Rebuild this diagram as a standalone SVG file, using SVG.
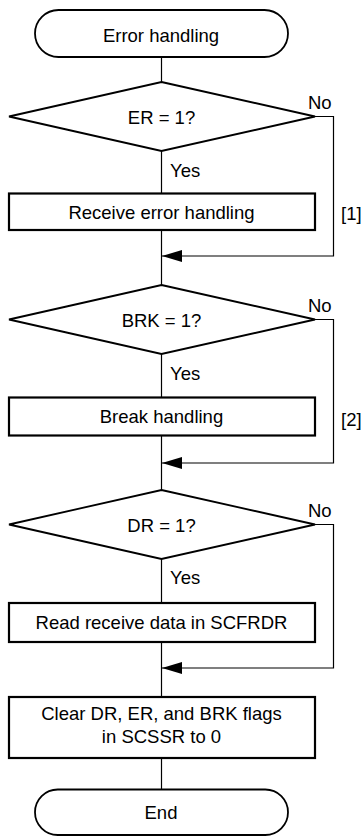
<svg xmlns="http://www.w3.org/2000/svg" width="363" height="836" viewBox="0 0 363 836">
<style>
text{font-family:"Liberation Sans",Arial,sans-serif;font-size:18.5px;fill:#000}
.c{text-anchor:middle}
.term{fill:#fff;stroke:#000;stroke-width:1.8}
.dia{fill:#fff;stroke:#000;stroke-width:1.8}
.box{fill:#fff;stroke:#000;stroke-width:2.2}
.ln{fill:none;stroke:#000;stroke-width:1.2}
</style>
<defs>
<marker id="ah" viewBox="0 0 20 12" refX="20" refY="6" markerWidth="20" markerHeight="12" markerUnits="userSpaceOnUse" orient="auto">
<path d="M0,0 L20,6 L0,12 Z" fill="#000"/>
</marker>
</defs>
<g id="connectors">
<line class="ln" x1="161.5" y1="57" x2="161.5" y2="82"/>
<line class="ln" x1="161.5" y1="151" x2="161.5" y2="193"/>
<line class="ln" x1="161.5" y1="230" x2="161.5" y2="285"/>
<polyline class="ln" points="315,116.5 333.5,116.5 333.5,256 162,256" marker-end="url(#ah)"/>
<line class="ln" x1="161.5" y1="354" x2="161.5" y2="397"/>
<line class="ln" x1="161.5" y1="435" x2="161.5" y2="490"/>
<polyline class="ln" points="315,319.5 333.5,319.5 333.5,463 162,463" marker-end="url(#ah)"/>
<line class="ln" x1="161.5" y1="559" x2="161.5" y2="603"/>
<line class="ln" x1="161.5" y1="642" x2="161.5" y2="697"/>
<polyline class="ln" points="315,524.5 333.5,524.5 333.5,668 162,668" marker-end="url(#ah)"/>
<line class="ln" x1="161.5" y1="758" x2="161.5" y2="790"/>
<text x="170" y="177">Yes</text>
<text x="308" y="109">No</text>
<text x="341" y="220">[1]</text>
<text x="170" y="380">Yes</text>
<text x="308" y="312">No</text>
<text x="341" y="426">[2]</text>
<text x="170" y="584">Yes</text>
<text x="308" y="517">No</text>
</g>
<g id="start">
<rect class="term" x="35" y="10" width="253" height="47" rx="23.5"/>
<text class="c" x="161" y="42">Error handling</text>
</g>
<g id="dec-er">
<polygon class="dia" points="161.5,82 315,116.5 161.5,151 9,116.5"/>
<text class="c" x="161.5" y="124">ER = 1?</text>
</g>
<g id="recv-err">
<rect class="box" x="9" y="193.5" width="306" height="36.5"/>
<text class="c" x="161.5" y="219">Receive error handling</text>
</g>
<g id="dec-brk">
<polygon class="dia" points="161.5,285 315,319.5 161.5,354 9,319.5"/>
<text class="c" x="161.5" y="327">BRK = 1?</text>
</g>
<g id="break">
<rect class="box" x="9" y="397.5" width="306" height="38"/>
<text class="c" x="161.5" y="423">Break handling</text>
</g>
<g id="dec-dr">
<polygon class="dia" points="161.5,490 315,524.5 161.5,559 9,524.5"/>
<text class="c" x="161.5" y="532">DR = 1?</text>
</g>
<g id="read">
<rect class="box" x="9" y="603" width="306" height="39"/>
<text class="c" x="161.5" y="629">Read receive data in SCFRDR</text>
</g>
<g id="clear">
<rect class="box" x="9" y="697" width="306" height="61"/>
<text class="c" x="161.5" y="720">Clear DR, ER, and BRK flags</text>
<text class="c" x="161.5" y="743">in SCSSR to 0</text>
</g>
<g id="end">
<rect class="term" x="35" y="789.5" width="253" height="45.5" rx="22.75"/>
<text class="c" x="161" y="819">End</text>
</g>
</svg>
